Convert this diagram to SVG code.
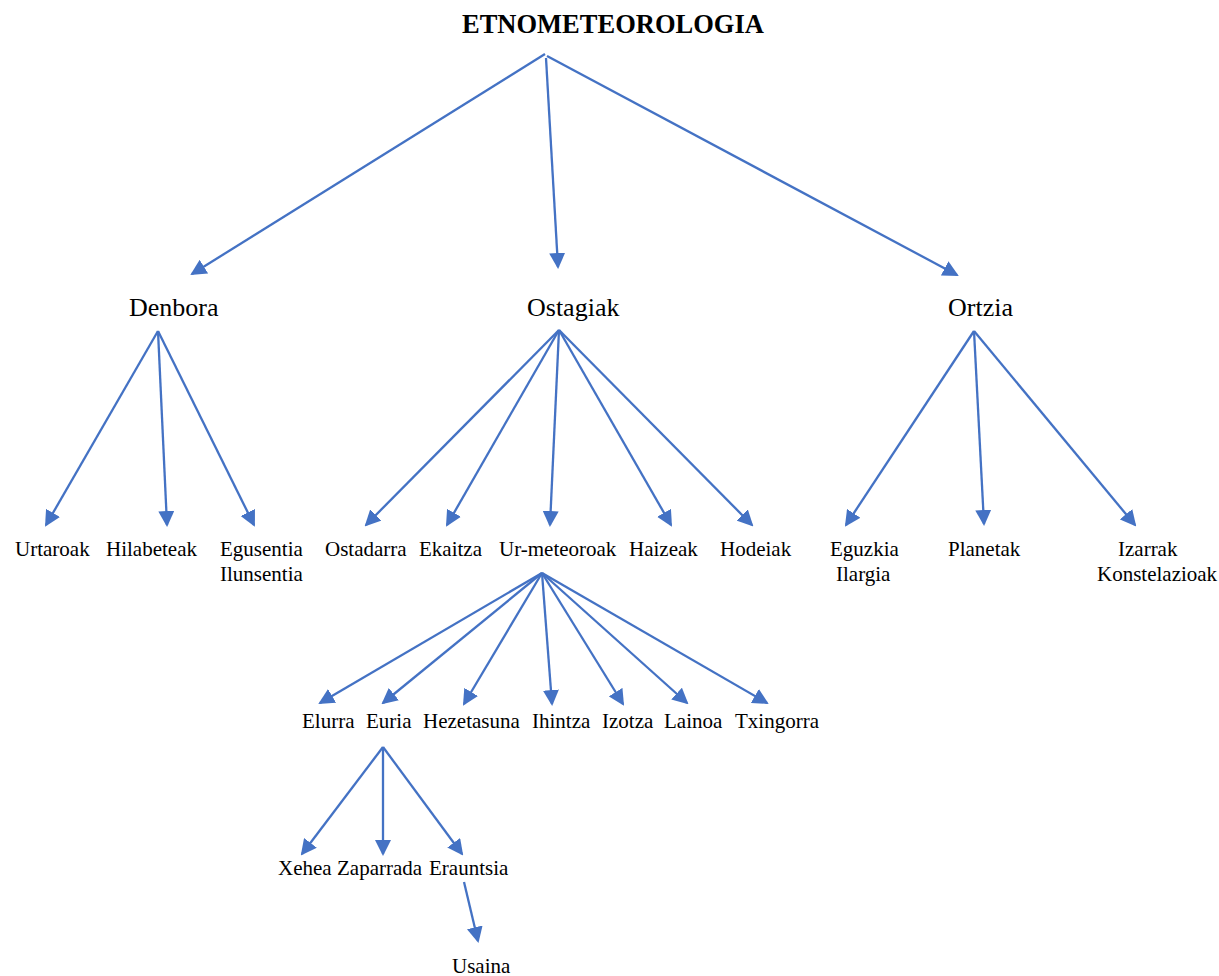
<svg xmlns="http://www.w3.org/2000/svg" width="1219" height="976" viewBox="0 0 1219 976">
<style>
  text { font-family: "Liberation Serif", "Times New Roman", serif; fill: #000; }
  .t0 { font-size: 26.5px; font-weight: bold; }
  .t1 { font-size: 26px; }
  .t2 { font-size: 21px; }
  .c line { stroke: #4472C4; stroke-width: 2.3; fill: none; marker-end: url(#ah); }
</style>
<defs>
  <marker id="ah" markerUnits="userSpaceOnUse" markerWidth="16" markerHeight="16" viewBox="0 0 16 16" refX="14" refY="8" orient="auto">
    <path d="M0,0 L16,8 L0,16 z" fill="#4472C4"/>
  </marker>
</defs>
<rect width="1219" height="976" fill="#fff"/>
<g id="connectors" class="c">
  <line x1="545" y1="54" x2="192" y2="274"/>
  <line x1="546" y1="58" x2="558" y2="267"/>
  <line x1="547" y1="56" x2="957" y2="275"/>
  <line x1="158" y1="331" x2="46" y2="525"/>
  <line x1="158" y1="331" x2="167" y2="525"/>
  <line x1="158" y1="331" x2="254" y2="525"/>
  <line x1="559" y1="330" x2="366" y2="525"/>
  <line x1="559" y1="330" x2="447" y2="525"/>
  <line x1="559" y1="330" x2="550" y2="525"/>
  <line x1="559" y1="330" x2="671" y2="525"/>
  <line x1="559" y1="330" x2="752" y2="525"/>
  <line x1="974" y1="331" x2="846" y2="525"/>
  <line x1="974" y1="331" x2="984" y2="524"/>
  <line x1="974" y1="331" x2="1135" y2="525"/>
  <line x1="542" y1="573" x2="320" y2="703"/>
  <line x1="542" y1="573" x2="383" y2="703"/>
  <line x1="542" y1="573" x2="464" y2="704"/>
  <line x1="542" y1="573" x2="552" y2="704"/>
  <line x1="542" y1="573" x2="623" y2="704"/>
  <line x1="542" y1="573" x2="687" y2="703"/>
  <line x1="542" y1="573" x2="767" y2="703"/>
  <line x1="383" y1="747" x2="302" y2="854"/>
  <line x1="383" y1="747" x2="383" y2="854"/>
  <line x1="383" y1="747" x2="462" y2="854"/>
  <line x1="464" y1="882" x2="478" y2="941"/>
</g>
<g id="n-etnometeorologia"><text class="t0" x="462" y="33">ETNOMETEOROLOGIA</text></g>
<g id="n-denbora"><text class="t1" x="129" y="316">Denbora</text></g>
<g id="n-ostagiak"><text class="t1" x="527" y="316">Ostagiak</text></g>
<g id="n-ortzia"><text class="t1" x="948" y="316">Ortzia</text></g>
<g id="n-urtaroak"><text class="t2" x="15" y="556">Urtaroak</text></g>
<g id="n-hilabeteak"><text class="t2" x="106" y="556">Hilabeteak</text></g>
<g id="n-egusentia"><text class="t2" x="220" y="556">Egusentia</text><text class="t2" x="220" y="581">Ilunsentia</text></g>
<g id="n-ostadarra"><text class="t2" x="325" y="556">Ostadarra</text></g>
<g id="n-ekaitza"><text class="t2" x="419" y="556">Ekaitza</text></g>
<g id="n-urmeteoroak"><text class="t2" x="499" y="556">Ur-meteoroak</text></g>
<g id="n-haizeak"><text class="t2" x="629" y="556">Haizeak</text></g>
<g id="n-hodeiak"><text class="t2" x="720" y="556">Hodeiak</text></g>
<g id="n-eguzkia"><text class="t2" x="830" y="556">Eguzkia</text><text class="t2" x="836" y="581">Ilargia</text></g>
<g id="n-planetak"><text class="t2" x="948" y="556">Planetak</text></g>
<g id="n-izarrak"><text class="t2" x="1118" y="556">Izarrak</text><text class="t2" x="1097" y="581">Konstelazioak</text></g>
<g id="n-elurra"><text class="t2" x="302" y="728">Elurra</text></g>
<g id="n-euria"><text class="t2" x="366" y="728">Euria</text></g>
<g id="n-hezetasuna"><text class="t2" x="423" y="728">Hezetasuna</text></g>
<g id="n-ihintza"><text class="t2" x="532" y="728">Ihintza</text></g>
<g id="n-izotza"><text class="t2" x="602" y="728">Izotza</text></g>
<g id="n-lainoa"><text class="t2" x="664" y="728">Lainoa</text></g>
<g id="n-txingorra"><text class="t2" x="735" y="728">Txingorra</text></g>
<g id="n-xehea"><text class="t2" x="278" y="875">Xehea</text></g>
<g id="n-zaparrada"><text class="t2" x="337" y="875">Zaparrada</text></g>
<g id="n-erauntsia"><text class="t2" x="429" y="875">Erauntsia</text></g>
<g id="n-usaina"><text class="t2" x="452" y="973">Usaina</text></g>
</svg>
